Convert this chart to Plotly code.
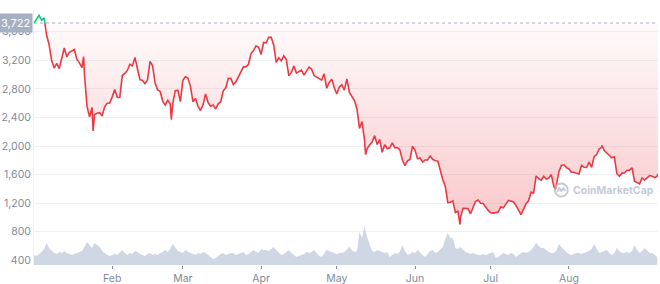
import pandas as pd
import plotly.graph_objects as go

# ---------------- data ----------------
START = "2022-01-01"
REF_PRICE = 3722

# price at 00:00 of each day, Jan 1 .. Sep 5 2022 (USD)
price = [
    3722,
    3769, 3829, 3761, 3794, 3550, 3418, 3193, 3091, 3157, 3083, 3238, 3372, 3249, 3310, 3331, 3352,
    3213, 3164, 3096, 3001, 2559, 2407, 2540, 2441, 2459, 2467, 2420, 2549, 2598, 2602, 2688,
    2792, 2682, 2680, 2987, 3015, 3058, 3144, 3122, 3240, 3078, 2928, 2918, 2873, 2929, 3185, 3123,
    2882, 2786, 2764, 2629, 2573, 2639, 2589, 2598, 2775, 2781, 2622, 2919,
    2970, 2950, 2835, 2620, 2665, 2556, 2497, 2576, 2730, 2608, 2558, 2573, 2518, 2590, 2620, 2772,
    2815, 2945, 2946, 2860, 2897, 2973, 3031, 3109, 3108, 3144, 3295, 3336, 3401, 3386, 3282,
    3449, 3444, 3522, 3521, 3411, 3171, 3234, 3192, 3262, 3211, 2982, 3030, 3118, 3020, 3041, 3062,
    2992, 3057, 3104, 3077, 2986, 2964, 2938, 2922, 3010, 2808, 2889, 2936, 2816, 2728,
    2827, 2857, 2783, 2940, 2749, 2695, 2636, 2518, 2245, 2343, 2078, 1962, 2014, 2056, 2145, 2022,
    2091, 1912, 2019, 1962, 1975, 2043, 1973, 1979, 1945, 1803, 1725, 1792, 1812, 1996, 1942,
    1823, 1834, 1776, 1805, 1806, 1859, 1814, 1793, 1789, 1665, 1528, 1437, 1208, 1213, 1232, 1069,
    1087, 995, 1127, 1127, 1124, 1051, 1144, 1225, 1243, 1199, 1194, 1144, 1099, 1067,
    1060, 1067, 1074, 1150, 1134, 1187, 1238, 1229, 1217, 1169, 1097, 1038, 1112, 1192, 1233, 1354,
    1339, 1581, 1543, 1521, 1577, 1538, 1551, 1600, 1441, 1449, 1637, 1728, 1737, 1697, 1679,
    1633, 1632, 1619, 1608, 1730, 1702, 1700, 1776, 1701, 1852, 1880, 1958, 1984, 1936, 1906, 1877,
    1834, 1848, 1612, 1577, 1620, 1622, 1661, 1659, 1696, 1507, 1490, 1470, 1553, 1524, 1554,
    1586, 1577, 1557, 1577,
]

# intraday extremes visible in the chart
extra_times = [
    "2022-01-20 16:00", "2022-01-24 10:00", "2022-02-24 10:00", "2022-05-12 10:00",
    "2022-06-18 20:00", "2022-07-26 14:00", "2022-08-14 02:00", "2022-09-05 06:00",
]
extra_prices = [3250, 2210, 2370, 1880, 900, 1390, 2010, 1610]

# daily traded volume (billion USD)
volume_bn = [
    10, 9, 11, 13, 16, 22, 17, 14, 12, 11, 13, 12, 14, 12, 11, 10, 11, 12, 13, 14, 18, 23, 20, 17,
    22, 20, 18, 14, 12, 10, 9, 10, 11, 10, 13, 15, 12, 10, 12, 11, 14, 13, 11, 10, 9, 11, 12, 10,
    11, 10, 12, 13, 15, 13, 16, 21, 17, 14, 13, 12, 15, 13, 12, 11, 10, 12, 11, 13, 12, 10, 8, 6,
    7, 9, 11, 12, 10, 11, 12, 12, 10, 11, 12, 13, 10, 11, 13, 15, 13, 12, 16, 15, 15, 14, 16, 18,
    15, 12, 10, 11, 13, 15, 12, 10, 8, 9, 10, 11, 13, 12, 13, 15, 12, 9, 8, 11, 15, 14, 13, 12,
    11, 12, 12, 13, 16, 18, 15, 13, 14, 33, 27, 39, 28, 20, 14, 13, 15, 14, 13, 12, 13, 8, 10, 12,
    11, 13, 20, 14, 10, 11, 13, 12, 15, 12, 10, 8, 11, 14, 15, 12, 13, 16, 18, 26, 32, 27, 27, 17,
    16, 18, 15, 13, 12, 11, 12, 11, 10, 10, 11, 10, 11, 12, 13, 7, 8, 10, 12, 11, 10, 12, 11, 8,
    10, 12, 13, 12, 13, 15, 18, 22, 19, 17, 17, 15, 13, 12, 12, 14, 21, 18, 15, 13, 11, 10, 11, 12,
    12, 11, 12, 13, 14, 16, 21, 16, 12, 13, 14, 15, 12, 10, 12, 17, 14, 12, 12, 13, 12, 14, 20, 15,
    12, 14, 17, 14, 12, 12, 10, 8,
]

month_ticks = ["2022-02-01", "2022-03-01", "2022-04-01", "2022-05-01",
               "2022-06-01", "2022-07-01", "2022-08-01"]
month_labels = ["Feb", "Mar", "Apr", "May", "Jun", "Jul", "Aug"]
price_ticks = [400, 800, 1200, 1600, 2000, 2400, 2800, 3200, 3600]

# ---------------- build series ----------------
dates = pd.date_range(START, periods=len(price), freq="D")
vol_dates = pd.date_range(START, periods=len(volume_bn), freq="D")
s = pd.concat([
    pd.Series(price, index=dates, dtype=float),
    pd.Series(extra_prices, index=pd.to_datetime(extra_times), dtype=float),
]).sort_index()

xs = list(s.index)
ys = list(s.values)

first_state = None
for v in ys:
    if v != REF_PRICE:
        first_state = v > REF_PRICE
        break

# split into segments above / below the reference price
segments = []
cur_x, cur_y = [xs[0]], [ys[0]]
state = first_state
for i in range(1, len(xs)):
    x0, y0, x1, y1 = xs[i - 1], ys[i - 1], xs[i], ys[i]
    if (y0 - REF_PRICE) * (y1 - REF_PRICE) < 0:
        t = (y0 - REF_PRICE) / (y0 - y1)
        xc = x0 + (x1 - x0) * t
        cur_x.append(xc)
        cur_y.append(REF_PRICE)
        segments.append((state, cur_x, cur_y))
        state = y1 > REF_PRICE
        cur_x, cur_y = [xc], [REF_PRICE]
    cur_x.append(x1)
    cur_y.append(y1)
segments.append((state, cur_x, cur_y))

RED = "#ea3943"
GREEN = "#16c784"

fig = go.Figure()

# volume area
fig.add_trace(go.Scatter(
    x=vol_dates, y=volume_bn, yaxis="y2", mode="lines",
    line=dict(width=0), fill="tozeroy", fillcolor="#cfd6e4",
    hoverinfo="skip", showlegend=False,
))

for up, sx, sy in segments:
    col = GREEN if up else RED
    fig.add_trace(go.Scatter(
        x=sx, y=[REF_PRICE] * len(sx), mode="lines", line=dict(width=0),
        hoverinfo="skip", showlegend=False,
    ))
    if up:
        grad = dict(type="vertical",
                    colorscale=[[0, "rgba(22,199,132,0.02)"], [1, "rgba(22,199,132,0.15)"]],
                    start=REF_PRICE, stop=3900)
    else:
        grad = dict(type="vertical",
                    colorscale=[[0, "rgba(234,57,67,0.28)"], [1, "rgba(234,57,67,0.02)"]],
                    start=900, stop=REF_PRICE)
    fig.add_trace(go.Scatter(
        x=sx, y=sy, mode="lines", line=dict(color=col, width=1.6),
        fill="tonexty", fillgradient=grad, hoverinfo="skip", showlegend=False,
    ))

x_end = pd.Timestamp(START) + pd.Timedelta(hours=247.3 * 24)

fig.add_shape(type="line", xref="x", yref="y",
              x0=pd.Timestamp(START), x1=x_end, y0=REF_PRICE, y1=REF_PRICE,
              line=dict(color="#a6b0c3", width=1, dash="dot"), layer="below")

fig.add_annotation(xref="paper", yref="y", x=0, y=REF_PRICE, xanchor="right", yanchor="middle",
                   xshift=-1, text="3,722", showarrow=False, bgcolor="#a6b0c3",
                   font=dict(color="white", size=11, family="Inter"), borderpad=2)

WM = "rgba(175,184,202,0.75)"
WM_Y = 0.294
fig.add_annotation(xref="paper", yref="paper", x=0.928, y=WM_Y, xanchor="center",
                   yanchor="middle", text="CoinMarketCap", showarrow=False,
                   font=dict(color=WM, size=10.5, family="Inter", weight=700))
fig.add_shape(type="circle", xref="paper", yref="paper", xsizemode="pixel", ysizemode="pixel",
              xanchor=0.845, yanchor=WM_Y, x0=-6.5, x1=6.5, y0=-6.5, y1=6.5,
              line=dict(color=WM, width=2))
fig.add_shape(type="path", xref="paper", yref="paper", xsizemode="pixel", ysizemode="pixel",
              xanchor=0.845, yanchor=WM_Y, path="M -4,-2 L -2,2 L 0,-1 L 2,2 L 4,-1",
              line=dict(color=WM, width=1.8))

fig.update_layout(
    width=660, height=284,
    margin=dict(l=34, r=2, t=10, b=19, autoexpand=False),
    plot_bgcolor="white", paper_bgcolor="white",
    font=dict(family="Inter", size=11, color="#808a9d"),
    hovermode=False,
    xaxis=dict(
        type="date", range=[pd.Timestamp(START), x_end],
        tickvals=month_ticks, ticktext=month_labels,
        ticks="outside", ticklen=3, tickcolor="#858ca2", tickwidth=1,
        showgrid=False, showline=False, zeroline=False, automargin=False,
        tickfont=dict(size=10.5, color="#808a9d"),
    ),
    yaxis=dict(
        range=[334, 3904], tickvals=price_ticks, tickformat=",d",
        showgrid=True, gridcolor="#eff2f5", gridwidth=1,
        zeroline=False, showline=True, linecolor="#eff2f5", automargin=False,
        ticks="", tickfont=dict(size=10.5, color="#808a9d"),
    ),
    yaxis2=dict(overlaying="y", range=[0, 255], visible=False),
)

fig.write_html("out.html")
